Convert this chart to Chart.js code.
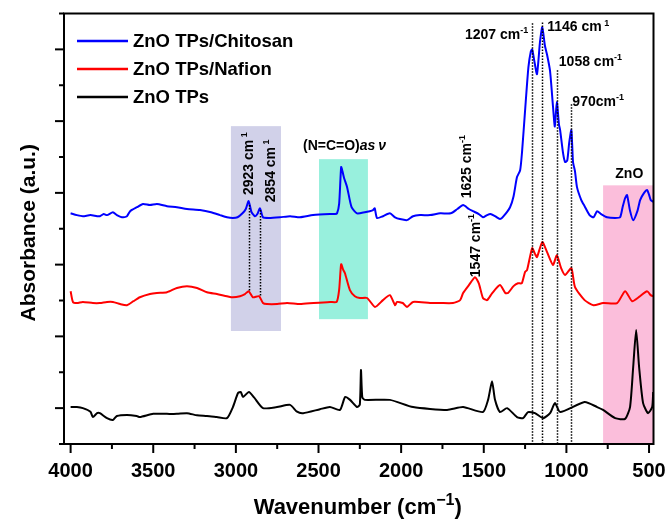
<!DOCTYPE html>
<html><head><meta charset="utf-8">
<script src="https://cdn.jsdelivr.net/npm/chart.js@4/dist/chart.umd.min.js"></script>
<style>html,body{margin:0;padding:0;background:#fff;}#wrap{width:668px;height:523px;}</style>
</head><body><div id="wrap"><canvas id="c" width="668" height="523"></canvas></div>
<script>
// ---- data (wavenumber in cm-1, absorbance in a.u., stacked offsets as in the figure) ----
const wnChitosan = [4000,3962,3926,3880,3840,3823,3800,3780,3744,3720,
 3690,3659,3640,3599,3562,3520,3478,3417,3357,3296,
 3217,3150,3096,3054,3018,2990,2960,2940,2923,2905,
 2885,2870,2854,2836,2800,2733,2672,2612,2533,2431,
 2400,2388,2375,2363,2355,2345,2327,2300,2267,2220,
 2190,2170,2160,2146,2110,2068,2037,2007,1965,1928,
 1886,1825,1764,1700,1660,1625,1590,1565,1530,1505,
 1480,1460,1432,1402,1380,1341,1320,1299,1280,1269,
 1250,1230,1215,1207,1195,1178,1160,1146,1130,1117,
 1099,1081,1070,1058,1045,1038,1020,1008,995,983,
 970,960,948,936,910,890,860,836,814,790,
 754,705,675,660,645,633,615,596,570,554,
 530,512,500,490,475];
const absChitosan = [6.43,6.38,6.35,6.38,6.35,6.35,6.41,6.38,6.46,6.38,
 6.32,6.35,6.49,6.60,6.69,6.66,6.69,6.63,6.60,6.55,
 6.52,6.46,6.38,6.32,6.30,6.32,6.43,6.55,6.77,6.46,
 6.35,6.41,6.57,6.32,6.30,6.32,6.35,6.32,6.38,6.41,
 6.41,6.43,6.70,7.72,7.60,7.41,7.16,6.60,6.43,6.46,
 6.49,6.52,6.57,6.30,6.35,6.43,6.32,6.27,6.24,6.35,
 6.38,6.38,6.43,6.43,6.55,6.66,6.55,6.49,6.41,6.32,
 6.38,6.41,6.35,6.27,6.35,6.60,6.90,7.44,7.63,8.11,
 9.30,10.5,10.95,11.0,10.7,10.31,11.2,11.62,11.1,10.85,
 10.4,9.4,8.85,9.53,8.9,8.75,8.1,7.86,7.9,8.4,
 8.75,7.86,7.6,7.16,6.8,6.63,6.38,6.32,6.49,6.41,
 6.32,6.30,6.32,6.6,6.85,6.94,6.5,6.24,6.5,6.80,
 7.0,7.08,6.95,6.8,6.75];

const wnNafion = [4000,3986,3962,3926,3865,3823,3780,3744,3700,3659,
 3620,3581,3520,3478,3417,3357,3296,3235,3175,3115,
 3054,3018,2975,2945,2923,2897,2860,2836,2812,2750,
 2690,2612,2530,2430,2390,2375,2363,2350,2340,2310,
 2280,2250,2206,2158,2110,2068,2037,2025,1990,1965,
 1928,1825,1764,1686,1643,1625,1590,1553,1530,1505,
 1480,1450,1402,1370,1353,1320,1293,1270,1250,1238,
 1207,1190,1178,1146,1117,1081,1058,1032,1008,970,
 948,890,836,778,693,645,602,560,512,490,
 475];
const absNafion = [4.26,3.96,3.93,3.96,3.93,3.93,3.96,3.96,3.90,3.87,
 3.98,4.09,4.18,4.21,4.23,4.35,4.40,4.35,4.23,4.18,
 4.12,4.09,4.12,4.18,4.26,4.09,4.12,3.93,3.90,3.90,
 3.93,3.90,3.93,3.96,3.96,4.3,5.01,4.85,4.76,4.29,
 4.12,4.07,4.07,3.82,4.01,4.15,3.87,3.96,3.93,3.82,
 3.96,3.93,3.93,3.93,4.01,4.21,4.43,4.65,4.48,4.07,
 4.01,4.2,4.43,4.21,4.21,4.4,4.48,4.48,4.8,4.85,
 5.46,5.3,5.21,5.63,5.35,4.99,5.26,4.90,4.71,4.90,
 4.37,4.01,3.87,3.93,3.93,4.26,3.98,4.1,4.26,4.15,
 4.12];

const wnZnO = [4000,3962,3926,3880,3865,3840,3823,3780,3744,3720,
 3659,3600,3581,3500,3417,3357,3296,3235,3175,3115,
 3054,3018,2987,2970,2957,2921,2890,2836,2751,2672,
 2630,2593,2491,2431,2370,2339,2309,2267,2250,2243,
 2235,2219,2068,1928,1722,1625,1505,1474,1450,1432,
 1402,1359,1299,1262,1232,1190,1141,1099,1069,1038,
 890,814,778,705,645,615,596,578,560,536,
 506,481,475];
const absZnO = [1.03,1.03,1.00,0.9,0.75,0.86,0.86,0.72,0.67,0.78,
 0.81,0.78,0.75,0.84,0.84,0.84,0.86,0.80,0.78,0.75,
 0.72,1.03,1.42,1.45,1.31,1.45,1.30,1.00,1.03,1.09,
 0.90,0.86,0.97,1.03,0.95,1.31,1.23,1.03,1.1,2.06,
 1.3,1.23,1.23,1.03,0.95,1.03,0.89,1.23,1.75,1.23,
 0.89,1.00,0.75,0.72,0.89,0.86,0.72,0.86,1.14,0.89,
 1.17,1.03,0.95,0.72,0.70,1.03,2.14,3.18,2.14,1.14,
 0.86,1.03,1.45];

const seriesNames = ['ZnO TPs/Chitosan','ZnO TPs/Nafion','ZnO TPs'];
const seriesColors = ['#0000ff','#ff0000','#000000'];
const xTickLabels = [4000,3500,3000,2500,2000,1500,1000,500];
const xMinorStep = 250;
const yTickStep = 1;

// peak marker lines: wavenumber, upper and lower absorbance
const peakWn   = [2923, 2854, 1207, 1146, 1058, 970];
const peakTop  = [6.66, 6.52, 11.73, 11.75, 10.42, 9.47];
const peakBot  = [4.26, 4.12, 0, 0, 0, 0];

// shaded bands: wavenumber range and absorbance range
const bandWnHi = [3030, 2497, 778];
const bandWnLo = [2727, 2201, 400];
const bandTop  = [8.86, 7.94, 7.21];
const bandBot  = [3.15, 3.48, 0];
const bandColors = ['#d1d1e9','#98f0dd','#fbbedb'];

// ---- chart ----
const FONT = "'Liberation Sans', Arial, sans-serif";
const toPts = (wn, ab) => wn.map((w, i) => ({x: w, y: ab[i]}));

function supText(ctx, x, y, main, sup, size, supSize, align, tail) {
  ctx.font = 'bold ' + size + 'px ' + FONT;
  const w1 = ctx.measureText(main).width;
  ctx.font = 'bold ' + supSize + 'px ' + FONT;
  const w2 = ctx.measureText(sup).width;
  let w3 = 0;
  if (tail) { ctx.font = 'bold ' + size + 'px ' + FONT; w3 = ctx.measureText(tail).width; }
  const tot = w1 + w2 + w3;
  let sx = x;
  if (align === 'right') sx = x - tot;
  if (align === 'center') sx = x - tot / 2;
  ctx.textAlign = 'left';
  ctx.textBaseline = 'alphabetic';
  ctx.font = 'bold ' + size + 'px ' + FONT;
  ctx.fillText(main, sx, y);
  ctx.font = 'bold ' + supSize + 'px ' + FONT;
  ctx.fillText(sup, sx + w1, y - size * 0.42);
  if (tail) { ctx.font = 'bold ' + size + 'px ' + FONT; ctx.fillText(tail, sx + w1 + w2, y); }
}

const annot = {
  id: 'annot',
  beforeDatasetsDraw(chart) {
    const {ctx, chartArea: a, scales: {x, y}} = chart;
    ctx.save();
    for (let i = 0; i < bandColors.length; i++) {
      const x1 = Math.max(a.left, x.getPixelForValue(bandWnHi[i]));
      const x2 = Math.min(a.right, x.getPixelForValue(bandWnLo[i]));
      const y1 = y.getPixelForValue(bandTop[i]);
      const y2 = y.getPixelForValue(bandBot[i]);
      ctx.fillStyle = bandColors[i];
      ctx.fillRect(x1, y1, x2 - x1, y2 - y1);
    }
    ctx.restore();
  },
  afterDatasetsDraw(chart) {
    const {ctx, chartArea: a, scales: {x, y}} = chart;
    ctx.save();
    // dotted peak lines
    ctx.strokeStyle = '#000';
    ctx.lineWidth = 1.5;
    ctx.setLineDash([1.5, 1.5]);
    for (let i = 0; i < peakWn.length; i++) {
      const px = Math.round(x.getPixelForValue(peakWn[i])) + 0.5;
      ctx.beginPath();
      ctx.moveTo(px, y.getPixelForValue(peakTop[i]));
      ctx.lineTo(px, y.getPixelForValue(peakBot[i]));
      ctx.stroke();
    }
    ctx.setLineDash([]);
    // frame
    ctx.lineWidth = 2;
    ctx.strokeRect(a.left, a.top, a.right - a.left, a.bottom - a.top);
    // x ticks
    for (let w = 4000; w >= x.min; w -= xMinorStep) {
      const px = x.getPixelForValue(w);
      const major = xTickLabels.includes(w);
      ctx.beginPath();
      ctx.moveTo(px, a.bottom);
      ctx.lineTo(px, a.bottom + (major ? 9 : 5));
      ctx.stroke();
    }
    // y ticks
    for (let v = 0; v <= y.max; v += yTickStep) {
      const py = y.getPixelForValue(v);
      const major = (v % 2) === 1;
      ctx.beginPath();
      ctx.moveTo(a.left, py);
      ctx.lineTo(a.left - (major ? 9 : 5), py);
      ctx.stroke();
    }
    ctx.fillStyle = '#000';
    // horizontal peak labels
    supText(ctx, x.getPixelForValue(1207) - 4, y.getPixelForValue(11.28), '1207 cm', '-1', 14, 9, 'right');
    supText(ctx, x.getPixelForValue(1146) + 5, y.getPixelForValue(11.50), '1146 cm', ' 1', 14, 9, 'left');
    supText(ctx, x.getPixelForValue(1058) + 2, y.getPixelForValue(10.53), '1058 cm', '-1', 14, 9, 'left');
    supText(ctx, x.getPixelForValue(970) + 1, y.getPixelForValue(9.42), '970cm', '-1', 14, 9, 'left');
    // ZnO band label
    ctx.font = 'bold 14px ' + FONT;
    ctx.textAlign = 'center';
    ctx.textBaseline = 'alphabetic';
    ctx.fillText('ZnO', (x.getPixelForValue(bandWnHi[2]) + a.right) / 2 + 1, y.getPixelForValue(7.41));
    // (N=C=O)as v label
    {
      const cx = (x.getPixelForValue(bandWnHi[1]) + x.getPixelForValue(bandWnLo[1])) / 2 + 1;
      const by = y.getPixelForValue(8.19);
      ctx.font = 'bold 14px ' + FONT;
      const t1 = '(N=C=O)';
      const w1 = ctx.measureText(t1).width;
      ctx.font = 'italic bold 14px ' + FONT;
      const t2 = 'as\u2009\u03bd';
      const w2 = ctx.measureText(t2).width;
      const sx = cx - (w1 + w2) / 2;
      ctx.textAlign = 'left';
      ctx.font = 'bold 14px ' + FONT;
      ctx.fillText(t1, sx, by);
      ctx.font = 'italic bold 14px ' + FONT;
      ctx.fillText(t2, sx + w1, by);
    }
    // rotated labels
    const rot = (px, py, main, sup) => {
      ctx.save();
      ctx.translate(px, py);
      ctx.rotate(-Math.PI / 2);
      supText(ctx, 0, 0, main, sup, 14, 9, 'left');
      ctx.restore();
    };
    rot(x.getPixelForValue(2923) + 4, y.getPixelForValue(6.94), '2923 cm', ' 1');
    rot(x.getPixelForValue(2854) + 15, y.getPixelForValue(6.74), '2854 cm', ' 1');
    rot(x.getPixelForValue(1625) + 8, y.getPixelForValue(6.85), '1625 cm', '-1');
    rot(x.getPixelForValue(1547) + 4, y.getPixelForValue(4.65), '1547 cm', '-1');
    // legend
    const ly = [41, 69, 97];
    for (let i = 0; i < seriesNames.length; i++) {
      ctx.strokeStyle = seriesColors[i];
      ctx.lineWidth = 2.5;
      ctx.beginPath();
      ctx.moveTo(a.left + 13, ly[i]);
      ctx.lineTo(a.left + 64, ly[i]);
      ctx.stroke();
      ctx.fillStyle = '#000';
      ctx.font = 'bold 18.5px ' + FONT;
      ctx.textAlign = 'left';
      ctx.textBaseline = 'middle';
      ctx.fillText(seriesNames[i], a.left + 69, ly[i] + 1);
    }
    // axis titles
    ctx.fillStyle = '#000';
    supText(ctx, (a.left + a.right) / 2 - 1, 514, 'Wavenumber (cm', '\u22121', 22, 16, 'center', ')');
    ctx.save();
    ctx.translate(35, (a.top + a.bottom) / 2 + 4);
    ctx.rotate(-Math.PI / 2);
    ctx.font = 'bold 21px ' + FONT;
    ctx.textAlign = 'center';
    ctx.textBaseline = 'alphabetic';
    ctx.fillText('Absorbance (a.u.)', 0, 0);
    ctx.restore();
    ctx.restore();
  }
};

new Chart(document.getElementById('c'), {
  type: 'line',
  data: {
    datasets: [
      {label: seriesNames[0], data: toPts(wnChitosan, absChitosan), borderColor: seriesColors[0]},
      {label: seriesNames[1], data: toPts(wnNafion, absNafion), borderColor: seriesColors[1]},
      {label: seriesNames[2], data: toPts(wnZnO, absZnO), borderColor: seriesColors[2]}
    ]
  },
  options: {
    responsive: false,
    animation: false,
    devicePixelRatio: 1,
    parsing: false,
    elements: {point: {radius: 0}, line: {borderWidth: 2, tension: 0.2, fill: false}},
    layout: {padding: {left: 64, right: 14.5, top: 13.5, bottom: 0}},
    plugins: {legend: {display: false}, tooltip: {enabled: false}},
    scales: {
      x: {
        type: 'linear', reverse: true, min: 473, max: 4040,
        grid: {display: false}, border: {display: false},
        ticks: {color: '#000', font: {family: FONT, size: 20, weight: 'bold'}, padding: 7, maxRotation: 0, autoSkip: false,
                callback: v => String(v)},
        afterBuildTicks: s => { s.ticks = xTickLabels.map(v => ({value: v})); },
        afterFit: s => { s.height = 79; s.paddingLeft = 0; s.paddingRight = 0; }
      },
      y: {type: 'linear', display: false, min: 0, max: 12}
    }
  },
  plugins: [annot]
});
</script>
</body></html>
